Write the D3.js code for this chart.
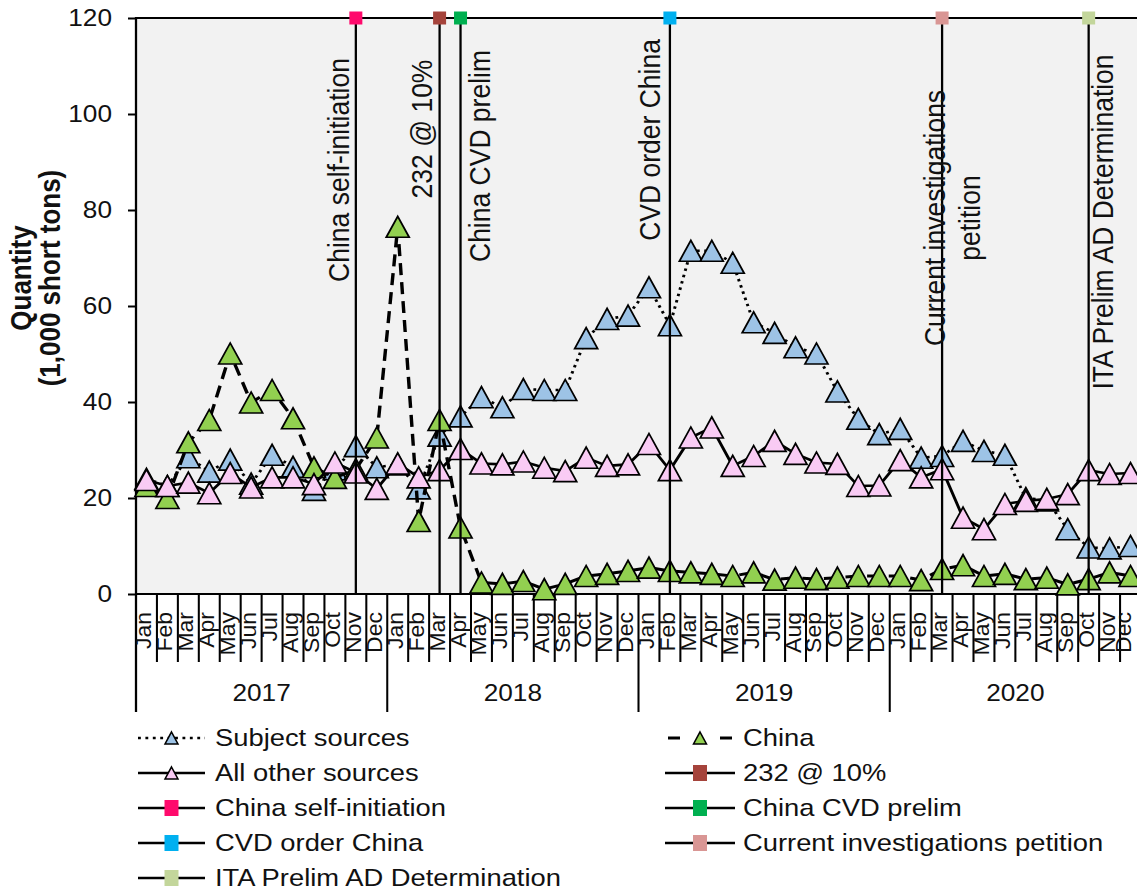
<!DOCTYPE html>
<html>
<head>
<meta charset="utf-8">
<script src="https://cdn.jsdelivr.net/npm/d3@7"></script>
<style>
html,body{margin:0;padding:0;background:#fff;overflow:hidden;}
svg{display:block;}
text{font-family:"Liberation Sans",Arial,Helvetica,sans-serif;fill:#111;}
</style>
</head>
<body>
<svg id="chart"></svg>
<script>
// ---------------- data ----------------
const months = ["Jan","Feb","Mar","Apr","May","Jun","Jul","Aug","Sep","Oct","Nov","Dec"];
const years = ["2017","2018","2019","2020"];
const categories = years.flatMap(yr => months.map(m => m + " " + yr));
const yTicks = [0,20,40,60,80,100,120];

// Quantity (1,000 short tons), Jan 2017 .. Dec 2020
const subjectSources = [
  24, 22.5, 28.5, 25.5, 28, 23, 29, 26.5, 21.7, 26, 30.8, 26.4,
  27, 22, 33, 37, 41, 38.9, 42.7, 42.5, 42.5, 53.3, 57.3, 58,
  63.9, 56, 71.5, 71.5, 69, 56.6, 54.4, 51.4, 50.1, 42.2, 36.5, 33.3,
  34.4, 28.4, 28.75, 31.9, 29.8, 29, 20, 19.5, 13.5, 9.7, 9.5, 10
];
const china = [
  22.5, 20, 31.6, 36.25, 50.1, 39.9, 42.5, 36.6, 26.4, 24.2, 26, 32.6,
  76.5, 15.2, 36.25, 13.85, 2.4, 2.1, 2.7, 1.0, 2.1, 3.75, 4.2, 4.8,
  5.5, 4.8, 4.5, 4.2, 3.75, 4.5, 3.0, 3.4, 3.1, 3.4, 3.75, 3.75,
  3.75, 2.9, 5.2, 6.0, 3.75, 4.2, 3.1, 3.4, 2.0, 3.1, 4.5, 3.75
];
const allOtherSources = [
  23.75, 22.5, 23.2, 21, 25.2, 22.2, 24.3, 24.3, 22.9, 27.4, 25.3, 21.9,
  27.2, 24.3, 25.8, 30.2, 27.2, 27, 27.6, 26.3, 25.6, 28.4, 26.7, 27,
  31.25, 25.8, 32.6, 34.7, 26.7, 28.75, 31.9, 29.2, 27.4, 27.1, 22.5, 22.6,
  27.9, 24.3, 26, 15.9, 13.5, 18.75, 19.4, 19.8, 20.8, 25.8, 25, 25.2
];

// event markers (vertical lines reaching the top of the axis)
const eventNames  = ["232 @ 10%","China self-initiation","China CVD prelim","CVD order China","Current investigations petition","ITA Prelim AD Determination"];
const eventMonths = ["Mar 2018","Nov 2017","Apr 2018","Feb 2019","Mar 2020","Oct 2020"];
const eventValue  = 120;

// ---------------- layout ----------------
const WIDTH = 1137, HEIGHT = 894;
const S = 1.14;                 // horizontal stretch of the reference image
const VW = WIDTH / S;
const px = v => v / S;          // screen x -> view x

const svg = d3.select("#chart")
  .attr("width", WIDTH).attr("height", HEIGHT)
  .attr("viewBox", `0 0 ${VW} ${HEIGHT}`)
  .attr("preserveAspectRatio", "none");

const plot = {left: px(136), right: px(1141), top: 18, bottom: 594};
const x = d3.scaleBand().domain(categories).range([plot.left, plot.right]).padding(0);
const bw = x.bandwidth();
const xc = c => x(c) + bw / 2;
const y = d3.scaleLinear().domain([0, 120]).range([plot.bottom, plot.top]);

const seriesStyle = {
  subject: {fill: "#9DC3E6", dash: "2.5 4", width: 2.6},
  china:   {fill: "#92D050", dash: "12 7", width: 3},
  other:   {fill: "#F9CBF4", dash: null, width: 2.6}
};
const eventColors = {
  "232 @ 10%": "#A5433B",
  "China self-initiation": "#FF0A6C",
  "China CVD prelim": "#00B050",
  "CVD order China": "#00B0F0",
  "Current investigations petition": "#D99694",
  "ITA Prelim AD Determination": "#C3D69B"
};

// plot background
svg.append("rect")
  .attr("x", plot.left).attr("y", plot.top)
  .attr("width", plot.right - plot.left).attr("height", plot.bottom - plot.top)
  .attr("fill", "#F2F2F2");

// top border
svg.append("line")
  .attr("x1", plot.left).attr("x2", plot.right)
  .attr("y1", plot.top).attr("y2", plot.top)
  .attr("stroke", "#000").attr("stroke-width", 2.2);

// y axis
const yAxis = d3.axisLeft(y).tickValues(yTicks).tickSize(px(8)).tickPadding(px(16)).tickFormat(d3.format("d"));
const gy = svg.append("g").attr("transform", `translate(${plot.left},0)`).call(yAxis);
gy.select(".domain").remove();
gy.selectAll(".tick line").attr("stroke", "#000").attr("stroke-width", 2);
gy.selectAll(".tick text")
  .attr("font-size", 23).attr("fill", "#111")
  .style("font-family", '"Liberation Sans", Arial, sans-serif');

// left axis line (runs through the category axis area)
svg.append("line")
  .attr("x1", plot.left).attr("x2", plot.left)
  .attr("y1", plot.top - 1).attr("y2", 712)
  .attr("stroke", "#000").attr("stroke-width", 2);

// bottom axis line
svg.append("line")
  .attr("x1", plot.left).attr("x2", plot.right)
  .attr("y1", plot.bottom).attr("y2", plot.bottom)
  .attr("stroke", "#000").attr("stroke-width", 2);

// y axis title
const yTitle = svg.append("g").attr("font-weight", "bold").attr("font-size", 26);
yTitle.append("text")
  .attr("transform", `translate(${px(31)},278) rotate(-90)`)
  .attr("text-anchor", "middle").attr("font-weight", "bold").text("Quantity");
yTitle.append("text")
  .attr("transform", `translate(${px(60)},278) rotate(-90)`)
  .attr("text-anchor", "middle").attr("font-weight", "bold").text("(1,000 short tons)");

// category axis: month ticks, year separators
const gx = svg.append("g");
d3.range(categories.length + 1).forEach(i => {
  const xx = plot.left + i * bw;
  gx.append("line")
    .attr("x1", xx).attr("x2", xx)
    .attr("y1", plot.bottom).attr("y2", i % 12 === 0 ? 712 : 662)
    .attr("stroke", "#000").attr("stroke-width", 1.8);
});
const monthBase = c => Math.min(xc(c) + px(5), px(1131));   // keep the last label inside the canvas
categories.forEach(c => {
  gx.append("text")
    .attr("transform", `translate(${monthBase(c)},612) rotate(-90) scale(1,0.86)`)
    .attr("text-anchor", "end")
    .attr("font-size", 23)
    .text(c.split(" ")[0]);
});
years.forEach(yr => {
  const first = x("Jan " + yr), last = x("Dec " + yr) + bw;
  gx.append("text")
    .attr("x", (first + last) / 2).attr("y", 693)
    .attr("dy", "0.35em").attr("text-anchor", "middle")
    .attr("font-size", 23).text(yr);
});

// triangle marker path
const TW = px(23), TH = 21;
const triPath = (w, h) => `M0,${-h/2}L${w/2},${h/2}L${-w/2},${h/2}Z`;

function drawSeries(values, st) {
  const g = svg.append("g");
  const line = d3.line().x((d, i) => xc(categories[i])).y(d => y(d));
  g.append("path").datum(values)
    .attr("d", line).attr("fill", "none")
    .attr("stroke", "#000").attr("stroke-width", st.width)
    .attr("stroke-dasharray", st.dash);
  g.selectAll("path.m").data(values).enter().append("path").attr("class", "m")
    .attr("transform", (d, i) => `translate(${xc(categories[i])},${y(d)})`)
    .attr("d", triPath(TW, TH))
    .attr("fill", st.fill).attr("stroke", "#000").attr("stroke-width", 1.6)
    .attr("stroke-linejoin", "miter");
}
drawSeries(subjectSources, seriesStyle.subject);
drawSeries(china, seriesStyle.china);
drawSeries(allOtherSources, seriesStyle.other);

// event lines and markers
const gev = svg.append("g");
eventNames.forEach((name, k) => {
  const cx = xc(eventMonths[k]);
  gev.append("line")
    .attr("x1", cx).attr("x2", cx)
    .attr("y1", y(0)).attr("y2", y(eventValue))
    .attr("stroke", "#000").attr("stroke-width", 2);
  gev.append("rect")
    .attr("x", cx - px(6.5)).attr("y", y(eventValue) - 6.5)
    .attr("width", px(13)).attr("height", 13)
    .attr("fill", eventColors[name]);
});

// event labels (rotated)
const eventLabelLayout = {
  "China self-initiation": {lines: ["China self-initiation"], dx: [-7], cy: 170},
  "232 @ 10%": {lines: ["232 @ 10%"], dx: [-8], cy: 129},
  "China CVD prelim": {lines: ["China CVD prelim"], dx: [29], cy: 156},
  "CVD order China": {lines: ["CVD order China"], dx: [-10], cy: 140},
  "Current investigations petition": {lines: ["Current investigations", "petition"], dx: [3, 38], cy: 218},
  "ITA Prelim AD Determination": {lines: ["ITA Prelim AD Determination"], dx: [24], cy: 222}
};
eventNames.forEach((name, k) => {
  const cx = xc(eventMonths[k]);
  const L = eventLabelLayout[name];
  L.lines.forEach((t, j) => {
    gev.append("text")
      .attr("transform", `translate(${cx + px(L.dx[j])},${L.cy}) rotate(-90)`)
      .attr("text-anchor", "middle").attr("font-size", 26.5)
      .text(t);
  });
});

// ---------------- legend ----------------
const legendRows = [738, 773, 808, 843, 878];
const legendCols = [{x0: 138, x1: 205, tx: 215}, {x0: 665, x1: 735, tx: 743}];
const legendItems = [
  {label: "Subject sources", kind: "tri", st: seriesStyle.subject},
  {label: "China", kind: "tri", st: seriesStyle.china},
  {label: "All other sources", kind: "tri", st: seriesStyle.other},
  {label: "232 @ 10%", kind: "sq"},
  {label: "China self-initiation", kind: "sq"},
  {label: "China CVD prelim", kind: "sq"},
  {label: "CVD order China", kind: "sq"},
  {label: "Current investigations petition", kind: "sq"},
  {label: "ITA Prelim AD Determination", kind: "sq"}
];
const gl = svg.append("g");
legendItems.forEach((it, k) => {
  const col = legendCols[k % 2], ry = legendRows[Math.floor(k / 2)];
  const x0 = px(col.x0), x1 = px(col.x1), mx = (x0 + x1) / 2;
  if (it.kind === "tri") {
    if (it.label === "China") {
      gl.append("line").attr("x1", x0 + px(3)).attr("x2", x0 + px(15)).attr("y1", ry).attr("y2", ry)
        .attr("stroke", "#000").attr("stroke-width", 3);
      gl.append("line").attr("x1", x1 - px(15)).attr("x2", x1 - px(3)).attr("y1", ry).attr("y2", ry)
        .attr("stroke", "#000").attr("stroke-width", 3);
    } else {
      gl.append("line").attr("x1", x0).attr("x2", x1).attr("y1", ry).attr("y2", ry)
        .attr("stroke", "#000").attr("stroke-width", it.st.width)
        .attr("stroke-dasharray", it.st.dash);
    }
    gl.append("path").attr("transform", `translate(${mx},${ry})`)
      .attr("d", triPath(px(13), 12))
      .attr("fill", it.st.fill).attr("stroke", "#000").attr("stroke-width", 1.4);
  } else {
    gl.append("line").attr("x1", x0).attr("x2", x1).attr("y1", ry).attr("y2", ry)
      .attr("stroke", "#000").attr("stroke-width", 2.6);
    gl.append("rect").attr("x", mx - px(7)).attr("y", ry - 8)
      .attr("width", px(14)).attr("height", 16)
      .attr("fill", eventColors[it.label]);
  }
  gl.append("text").attr("x", px(col.tx)).attr("y", ry).attr("dy", "0.35em")
    .attr("font-size", 24).text(it.label);
});
</script>
</body>
</html>
